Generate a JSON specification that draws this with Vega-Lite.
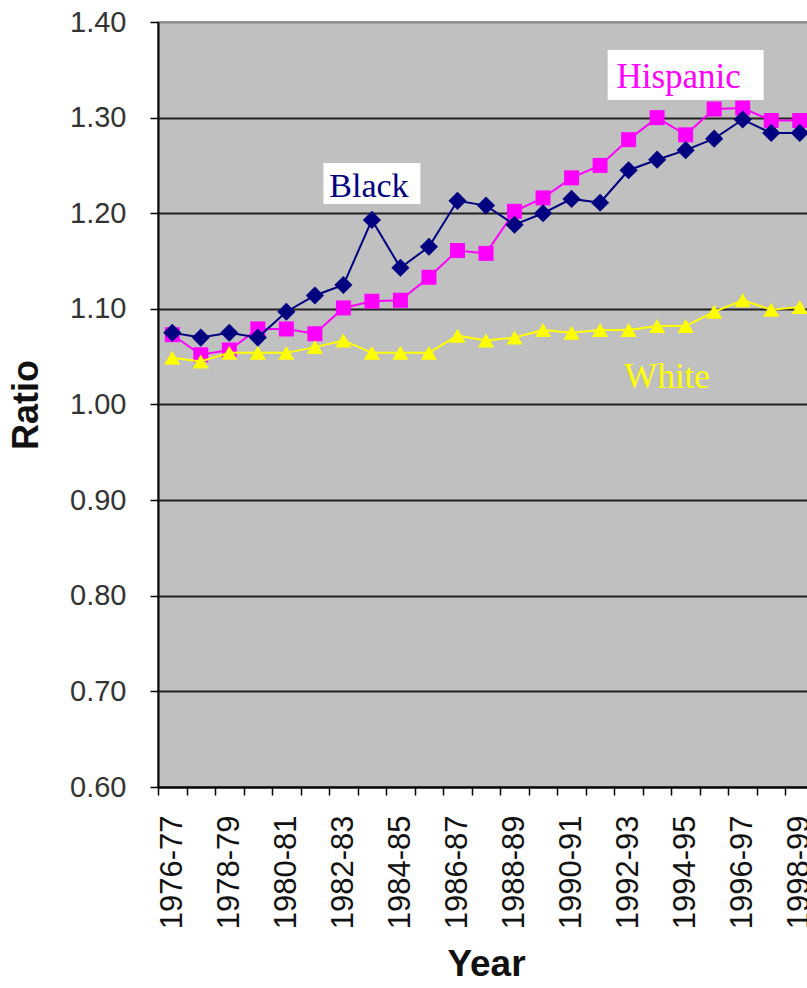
{
  "$schema": "https://vega.github.io/schema/vega-lite/v6.json",
  "width": 656,
  "height": 765,
  "autosize": {"type": "none"},
  "padding": {"left": 158, "top": 22, "right": 0, "bottom": 201},
  "background": "white",
  "config": {"view": {"fill": "#C0C0C0", "stroke": "#8a8a8a", "strokeWidth": 1.5}},
  "datasets": {
    "ratios": [
      {"year": "1976-77", "group": "Hispanic", "ratio": 1.073},
      {"year": "1977-78", "group": "Hispanic", "ratio": 1.052},
      {"year": "1978-79", "group": "Hispanic", "ratio": 1.057},
      {"year": "1979-80", "group": "Hispanic", "ratio": 1.079},
      {"year": "1980-81", "group": "Hispanic", "ratio": 1.079},
      {"year": "1981-82", "group": "Hispanic", "ratio": 1.074},
      {"year": "1982-83", "group": "Hispanic", "ratio": 1.101},
      {"year": "1983-84", "group": "Hispanic", "ratio": 1.108},
      {"year": "1984-85", "group": "Hispanic", "ratio": 1.109},
      {"year": "1985-86", "group": "Hispanic", "ratio": 1.133},
      {"year": "1986-87", "group": "Hispanic", "ratio": 1.161},
      {"year": "1987-88", "group": "Hispanic", "ratio": 1.158},
      {"year": "1988-89", "group": "Hispanic", "ratio": 1.202},
      {"year": "1989-90", "group": "Hispanic", "ratio": 1.216},
      {"year": "1990-91", "group": "Hispanic", "ratio": 1.237},
      {"year": "1991-92", "group": "Hispanic", "ratio": 1.250},
      {"year": "1992-93", "group": "Hispanic", "ratio": 1.277},
      {"year": "1993-94", "group": "Hispanic", "ratio": 1.300},
      {"year": "1994-95", "group": "Hispanic", "ratio": 1.282},
      {"year": "1995-96", "group": "Hispanic", "ratio": 1.309},
      {"year": "1996-97", "group": "Hispanic", "ratio": 1.310},
      {"year": "1997-98", "group": "Hispanic", "ratio": 1.297},
      {"year": "1998-99", "group": "Hispanic", "ratio": 1.297},
      {"year": "1976-77", "group": "Black", "ratio": 1.075},
      {"year": "1977-78", "group": "Black", "ratio": 1.070},
      {"year": "1978-79", "group": "Black", "ratio": 1.075},
      {"year": "1979-80", "group": "Black", "ratio": 1.070},
      {"year": "1980-81", "group": "Black", "ratio": 1.097},
      {"year": "1981-82", "group": "Black", "ratio": 1.114},
      {"year": "1982-83", "group": "Black", "ratio": 1.125},
      {"year": "1983-84", "group": "Black", "ratio": 1.193},
      {"year": "1984-85", "group": "Black", "ratio": 1.143},
      {"year": "1985-86", "group": "Black", "ratio": 1.165},
      {"year": "1986-87", "group": "Black", "ratio": 1.213},
      {"year": "1987-88", "group": "Black", "ratio": 1.208},
      {"year": "1988-89", "group": "Black", "ratio": 1.188},
      {"year": "1989-90", "group": "Black", "ratio": 1.200},
      {"year": "1990-91", "group": "Black", "ratio": 1.215},
      {"year": "1991-92", "group": "Black", "ratio": 1.211},
      {"year": "1992-93", "group": "Black", "ratio": 1.245},
      {"year": "1993-94", "group": "Black", "ratio": 1.256},
      {"year": "1994-95", "group": "Black", "ratio": 1.266},
      {"year": "1995-96", "group": "Black", "ratio": 1.278},
      {"year": "1996-97", "group": "Black", "ratio": 1.298},
      {"year": "1997-98", "group": "Black", "ratio": 1.284},
      {"year": "1998-99", "group": "Black", "ratio": 1.284},
      {"year": "1976-77", "group": "White", "ratio": 1.049},
      {"year": "1977-78", "group": "White", "ratio": 1.045},
      {"year": "1978-79", "group": "White", "ratio": 1.054},
      {"year": "1979-80", "group": "White", "ratio": 1.054},
      {"year": "1980-81", "group": "White", "ratio": 1.054},
      {"year": "1981-82", "group": "White", "ratio": 1.060},
      {"year": "1982-83", "group": "White", "ratio": 1.067},
      {"year": "1983-84", "group": "White", "ratio": 1.054},
      {"year": "1984-85", "group": "White", "ratio": 1.054},
      {"year": "1985-86", "group": "White", "ratio": 1.054},
      {"year": "1986-87", "group": "White", "ratio": 1.072},
      {"year": "1987-88", "group": "White", "ratio": 1.067},
      {"year": "1988-89", "group": "White", "ratio": 1.070},
      {"year": "1989-90", "group": "White", "ratio": 1.078},
      {"year": "1990-91", "group": "White", "ratio": 1.075},
      {"year": "1991-92", "group": "White", "ratio": 1.078},
      {"year": "1992-93", "group": "White", "ratio": 1.078},
      {"year": "1993-94", "group": "White", "ratio": 1.082},
      {"year": "1994-95", "group": "White", "ratio": 1.082},
      {"year": "1995-96", "group": "White", "ratio": 1.097},
      {"year": "1996-97", "group": "White", "ratio": 1.109},
      {"year": "1997-98", "group": "White", "ratio": 1.099},
      {"year": "1998-99", "group": "White", "ratio": 1.102}
    ],
    "labels": [
      {"year": "1983-84", "text": "Black", "kind": "box", "ratio": 1.231},
      {"year": "1994-95", "text": "Hispanic", "kind": "box", "ratio": 1.3446},
      {"year": "1983-84", "text": "Black", "kind": "text", "ratio": 1.217},
      {"year": "1994-95", "text": "Hispanic", "kind": "text", "ratio": 1.331},
      {"year": "1993-94", "text": "White", "kind": "text", "ratio": 1.017}
    ]
  },
  "data": {"name": "ratios"},
  "encoding": {
    "x": {
      "field": "year",
      "type": "ordinal",
      "sort": null,
      "scale": {
        "type": "band",
        "paddingInner": 0,
        "paddingOuter": 0,
        "domain": ["1976-77", "1977-78", "1978-79", "1979-80", "1980-81", "1981-82", "1982-83", "1983-84", "1984-85", "1985-86", "1986-87", "1987-88", "1988-89", "1989-90", "1990-91", "1991-92", "1992-93", "1993-94", "1994-95", "1995-96", "1996-97", "1997-98", "1998-99"]
      },
      "axis": {
        "title": "Year",
        "titleFont": "Liberation Sans",
        "titleFontSize": 37,
        "titleFontWeight": "bold",
        "titleColor": "#111111",
        "titlePadding": 18,
        "labelAngle": -90,
        "labelFont": "Liberation Sans",
        "labelFontSize": 31,
        "labelColor": "#111111",
        "labelPadding": 20,
        "labelExpr": "indexof(['1976-77','1978-79','1980-81','1982-83','1984-85','1986-87','1988-89','1990-91','1992-93','1994-95','1996-97','1998-99'], datum.value) >= 0 ? datum.value : ''",
        "labelOverlap": false,
        "labelBound": false,
        "tickBand": "extent",
        "tickSize": 8,
        "tickColor": "#000000",
        "tickWidth": 1.5,
        "domainColor": "#000000",
        "domainWidth": 2,
        "grid": false
      }
    },
    "y": {
      "field": "ratio",
      "type": "quantitative",
      "scale": {"domain": [0.6, 1.4], "nice": false, "zero": false},
      "axis": {
        "title": "Ratio",
        "titleFont": "Liberation Sans",
        "titleFontSize": 36,
        "titleFontWeight": "bold",
        "titleColor": "#111111",
        "titlePadding": 24,
        "values": [0.6, 0.7, 0.8, 0.9, 1.0, 1.1, 1.2, 1.3, 1.4],
        "format": ".2f",
        "labelFont": "Liberation Sans",
        "labelFontSize": 29,
        "labelColor": "#333333",
        "labelPadding": 24,
        "tickSize": 8,
        "tickColor": "#000000",
        "tickWidth": 1.5,
        "domainColor": "#000000",
        "domainWidth": 2,
        "grid": true,
        "gridColor": {"condition": {"test": "datum.value > 1.35", "value": "#8a8a8a"}, "value": "#222222"},
        "gridWidth": 2
      }
    }
  },
  "layer": [
    {
      "data": {"name": "labels"},
      "transform": [{"filter": "datum.text == 'Black' && datum.kind == 'box'"}],
      "mark": {"type": "point", "shape": "M-1,-0.4227L1,-0.4227L1,0.4227L-1,0.4227Z", "size": 9409, "filled": true, "color": "#ffffff", "opacity": 1, "strokeWidth": 0}
    },
    {
      "data": {"name": "labels"},
      "transform": [{"filter": "datum.text == 'Hispanic' && datum.kind == 'box'"}],
      "mark": {"type": "point", "shape": "M-1,-0.3205L1,-0.3205L1,0.3205L-1,0.3205Z", "size": 24336, "filled": true, "color": "#ffffff", "opacity": 1, "strokeWidth": 0}
    },
    {
      "transform": [{"filter": "datum.group == 'Hispanic'"}],
      "mark": {"type": "line", "color": "#FF00FF", "strokeWidth": 2}
    },
    {
      "transform": [{"filter": "datum.group == 'Hispanic'"}],
      "mark": {"type": "point", "shape": "square", "size": 225, "filled": true, "color": "#FF00FF", "opacity": 1}
    },
    {
      "transform": [{"filter": "datum.group == 'Black'"}],
      "mark": {"type": "line", "color": "#000080", "strokeWidth": 2}
    },
    {
      "transform": [{"filter": "datum.group == 'Black'"}],
      "mark": {"type": "point", "shape": "diamond", "size": 330, "filled": true, "color": "#000080", "opacity": 1}
    },
    {
      "transform": [{"filter": "datum.group == 'White'"}],
      "mark": {"type": "line", "color": "#FFFF00", "strokeWidth": 2}
    },
    {
      "transform": [{"filter": "datum.group == 'White'"}],
      "mark": {"type": "point", "shape": "triangle-up", "size": 260, "filled": true, "color": "#FFFF00", "opacity": 1}
    },
    {
      "data": {"name": "labels"},
      "transform": [{"filter": "datum.text == 'Black' && datum.kind == 'text'"}],
      "mark": {"type": "text", "font": "Liberation Serif", "fontSize": 34, "color": "#000080", "baseline": "alphabetic", "align": "center", "dx": -3},
      "encoding": {"text": {"field": "text"}}
    },
    {
      "data": {"name": "labels"},
      "transform": [{"filter": "datum.text == 'Hispanic' && datum.kind == 'text'"}],
      "mark": {"type": "text", "font": "Liberation Serif", "fontSize": 35, "color": "#FF00FF", "baseline": "alphabetic", "align": "center", "dx": -7},
      "encoding": {"text": {"field": "text"}}
    },
    {
      "data": {"name": "labels"},
      "transform": [{"filter": "datum.text == 'White' && datum.kind == 'text'"}],
      "mark": {"type": "text", "font": "Liberation Serif", "fontSize": 35, "color": "#FFFF00", "baseline": "alphabetic", "align": "center", "dx": 10},
      "encoding": {"text": {"field": "text"}}
    }
  ]
}
